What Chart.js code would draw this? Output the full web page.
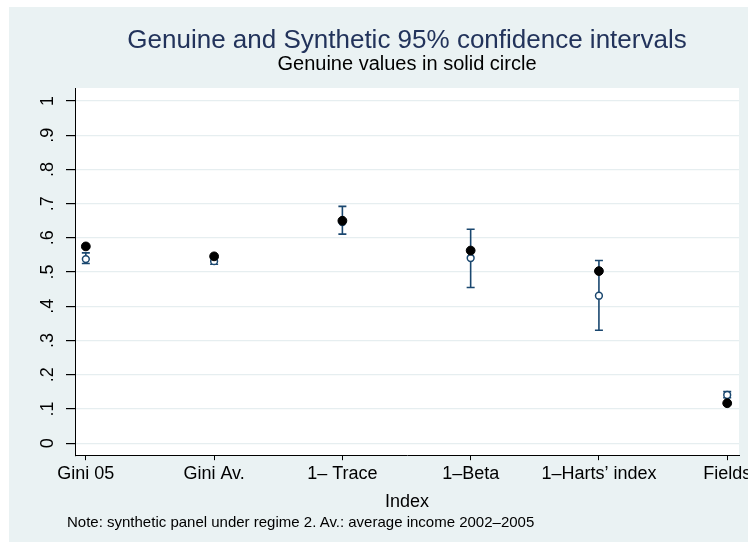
<!DOCTYPE html>
<html>
<head>
<meta charset="utf-8">
<script src="https://cdn.jsdelivr.net/npm/chart.js@4.4.1/dist/chart.umd.min.js"></script>
<style>
html,body{margin:0;padding:0;background:#fff;overflow:hidden;width:748px;height:546px}
#wrap{position:absolute;left:9px;top:7px;width:760px;height:535px;background:#eaf2f3}
#note{position:absolute;left:67px;top:513px;font:15px "Liberation Sans",Arial,sans-serif;color:#000;white-space:nowrap}
</style>
</head>
<body>
<div id="wrap"><canvas id="c"></canvas></div>
<div id="note">Note: synthetic panel under regime 2. Av.: average income 2002–2005</div>
<script>
// index categories on the x axis
const categories=['Gini 05','Gini Av.','1– Trace','1–Beta','1–Harts’ index','Fields'];
// genuine point estimates (solid circles)
const genuine=[0.575,0.546,0.650,0.563,0.503,0.117];
// synthetic point estimates (hollow circles)
const synthetic=[0.538,0.532,0.646,0.541,0.431,0.141];
// synthetic 95% CI bounds
const ciLow=[0.525,0.523,0.611,0.455,0.330,0.133];
const ciHigh=[0.556,0.541,0.692,0.625,0.534,0.151];
// y ticks
const yTicks=[0,0.1,0.2,0.3,0.4,0.5,0.6,0.7,0.8,0.9,1];
const yTickLabels=['0','.1','.2','.3','.4','.5','.6','.7','.8','.9','1'];

const FONT='"Liberation Sans", Arial, sans-serif';
const NAVY='#1a476f';

const plotBg={
  id:'plotBg',
  beforeDraw(chart){
    const a=chart.chartArea, ctx=chart.ctx;
    ctx.save();
    ctx.fillStyle='#fff';
    ctx.fillRect(a.left,a.top,a.right-a.left,a.bottom-a.top);
    ctx.restore();
  }
};

const ciData=[];
categories.forEach((c,i)=>{
  ciData.push({x:i,y:ciLow[i]},{x:i,y:ciHigh[i]},{x:i+0.5,y:null});
});

new Chart(document.getElementById('c'),{
  type:'scatter',
  data:{
    datasets:[
      {label:'Genuine',data:categories.map((c,i)=>({x:i,y:genuine[i]})),
       pointRadius:4.4,pointBackgroundColor:'#000',pointBorderColor:'#000',pointBorderWidth:1},
      {label:'Synthetic',data:categories.map((c,i)=>({x:i,y:synthetic[i]})),
       pointRadius:3.4,pointBackgroundColor:'#fff',pointBorderColor:NAVY,pointBorderWidth:1.5},
      {label:'CI',data:ciData,showLine:true,spanGaps:false,
       borderColor:NAVY,borderWidth:1.6,
       pointStyle:'line',pointRadius:4,pointBorderColor:NAVY,pointBorderWidth:1.6}
    ]
  },
  options:{
    responsive:true,
    maintainAspectRatio:false,
    animation:false,
    layout:{padding:{left:15.4,right:30,top:0,bottom:29}},
    plugins:{
      legend:{display:false},
      tooltip:{enabled:false},
      title:{display:true,fullSize:false,text:'Genuine and Synthetic 95% confidence intervals',
        color:'#22335b',font:{family:FONT,size:26,weight:'normal',lineHeight:1},
        padding:{top:21,bottom:0}},
      subtitle:{display:true,fullSize:false,text:'Genuine values in solid circle',
        color:'#000',font:{family:FONT,size:20,weight:'normal',lineHeight:1},
        padding:{top:0,bottom:14}}
    },
    scales:{
      x:{type:'linear',min:-0.0845,max:5.092,
        afterBuildTicks:s=>{s.ticks=categories.map((c,i)=>({value:i}));},
        ticks:{autoSkip:false,maxRotation:0,padding:3,color:'#000',
          font:{family:FONT,size:18},callback:(v,i)=>categories[i]},
        grid:{drawOnChartArea:false,tickLength:5,tickColor:'#000',color:'#000'},
        border:{color:'#000',width:1},
        title:{display:true,text:'Index',color:'#000',font:{family:FONT,size:18},
          padding:{top:3.6,bottom:0}}
      },
      y:{type:'linear',min:-0.0348,max:1.0377,
        afterBuildTicks:s=>{s.ticks=yTicks.map(v=>({value:v}));},
        ticks:{minRotation:90,maxRotation:90,crossAlign:'center',padding:10,color:'#000',
          font:{family:FONT,size:18},callback:(v,i)=>yTickLabels[i]},
        grid:{color:'#e6eef0',lineWidth:1.2,tickLength:9,tickColor:'#000'},
        border:{color:'#000',width:1}
      }
    }
  },
  plugins:[plotBg]
});
</script>
</body>
</html>
